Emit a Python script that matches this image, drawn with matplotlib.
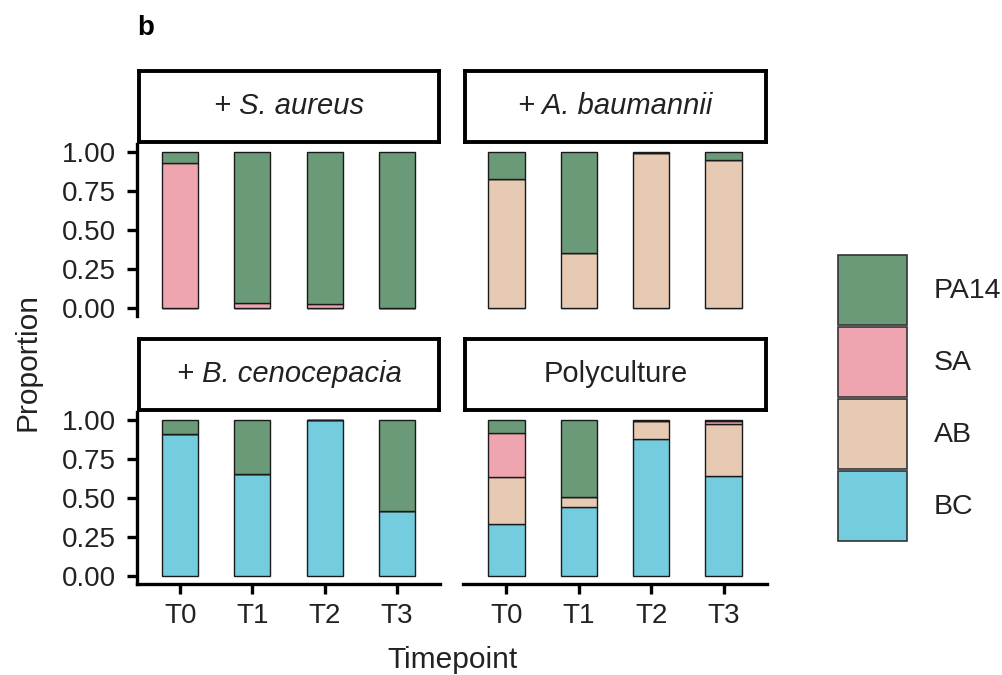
import matplotlib
matplotlib.use("Agg")
import matplotlib.pyplot as plt
from matplotlib.patches import Patch
import numpy as np

plt.rcParams['font.family'] = ['Liberation Sans', 'DejaVu Sans']

# --- data (proportions) ---
timepoints = ["T0", "T1", "T2", "T3"]
species = ["BC", "AB", "SA", "PA14"]   # stacking order, bottom -> top
colors = {"PA14": "#6b9a78", "SA": "#efa5af", "AB": "#e7cab3", "BC": "#74cddf"}

panel_titles = ["+ S. aureus", "+ A. baumannii", "+ B. cenocepacia", "Polyculture"]

# + S. aureus
sa_BC = [0.0, 0.0, 0.0, 0.0]
sa_AB = [0.0, 0.0, 0.0, 0.0]
sa_SA = [0.93, 0.032, 0.028, 0.004]
sa_PA14 = [0.07, 0.968, 0.972, 0.996]

# + A. baumannii
ab_BC = [0.0, 0.0, 0.0, 0.0]
ab_AB = [0.825, 0.35, 0.99, 0.945]
ab_SA = [0.0, 0.0, 0.0, 0.0]
ab_PA14 = [0.175, 0.65, 0.01, 0.055]

# + B. cenocepacia
bc_BC = [0.907, 0.652, 1.0, 0.415]
bc_AB = [0.0, 0.0, 0.0, 0.0]
bc_SA = [0.0, 0.0, 0.0, 0.0]
bc_PA14 = [0.093, 0.348, 0.0, 0.585]

# Polyculture
pc_BC = [0.333, 0.443, 0.877, 0.64]
pc_AB = [0.30, 0.061, 0.117, 0.332]
pc_SA = [0.281, 0.0, 0.0, 0.018]
pc_PA14 = [0.086, 0.496, 0.006, 0.01]

panel_data = [
    {"BC": sa_BC, "AB": sa_AB, "SA": sa_SA, "PA14": sa_PA14},
    {"BC": ab_BC, "AB": ab_AB, "SA": ab_SA, "PA14": ab_PA14},
    {"BC": bc_BC, "AB": bc_AB, "SA": bc_SA, "PA14": bc_PA14},
    {"BC": pc_BC, "AB": pc_AB, "SA": pc_SA, "PA14": pc_PA14},
]

W, H = 1003, 675
fig = plt.figure(figsize=(W / 100, H / 100), dpi=100)


def frac(x0, y0, x1, y1):
    # pixel box (top-left origin) -> figure fraction rect
    return [x0 / W, 1 - y1 / H, (x1 - x0) / W, (y1 - y0) / H]


panel_boxes = [
    (137, 144, 440, 316),
    (463, 144, 767, 316),
    (137, 412, 440, 584),
    (463, 412, 767, 584),
]
strip_boxes = [
    (139, 71, 439, 142),
    (465, 71, 766, 142),
    (139, 339, 439, 410),
    (465, 339, 766, 410),
]

x = np.arange(len(timepoints))
tick_fs = 20
lw_axis = 2.4
txt_col = "#222222"

for i, (pbox, sbox) in enumerate(zip(panel_boxes, strip_boxes)):
    ax = fig.add_axes(frac(*pbox))
    bottom = np.zeros(len(timepoints))
    for sp in species:
        vals = np.array(panel_data[i][sp])
        ax.bar(x, vals, width=0.5, bottom=bottom, color=colors[sp],
               edgecolor="#1a1a1a", linewidth=1.0)
        bottom += vals
    ax.set_xlim(-0.6, len(timepoints) - 0.4)
    ax.set_ylim(-0.05, 1.05)
    for s in ax.spines.values():
        s.set_visible(False)
    left_col = i % 2 == 0
    bottom_row = i >= 2
    if left_col:
        ax.spines["left"].set_visible(True)
        ax.spines["left"].set_linewidth(lw_axis)
        ax.set_yticks([0, 0.25, 0.5, 0.75, 1.0])
        ax.set_yticklabels(["0.00", "0.25", "0.50", "0.75", "1.00"])
        ax.tick_params(axis="y", length=7, width=lw_axis, labelsize=tick_fs, pad=8,
                       labelcolor=txt_col)
    else:
        ax.set_yticks([])
    if bottom_row:
        ax.spines["bottom"].set_visible(True)
        ax.spines["bottom"].set_linewidth(lw_axis)
        ax.set_xticks(x)
        ax.set_xticklabels(timepoints)
        ax.tick_params(axis="x", length=7, width=lw_axis, labelsize=tick_fs, pad=7,
                       labelcolor=txt_col)
    else:
        ax.set_xticks([])

    sax = fig.add_axes(frac(*sbox))
    sax.set_xticks([])
    sax.set_yticks([])
    for s in sax.spines.values():
        s.set_linewidth(2.8)
        s.set_color("black")
    title = panel_titles[i]
    style = "normal" if title == "Polyculture" else "italic"
    sax.text(0.5, 0.5, title, ha="center", va="center", fontsize=21,
             fontstyle=style, color=txt_col, transform=sax.transAxes)

# axis titles and panel tag
fig.text(28 / W, 1 - 362 / H, "Proportion", rotation=90, ha="center", va="center",
         fontsize=21.5, color=txt_col)
fig.text(453 / W, 1 - 660 / H, "Timepoint", ha="center", va="center",
         fontsize=21.5, color=txt_col)
fig.text(137 / W, 1 - 28 / H, "b", ha="left", va="center", fontsize=20, fontweight="bold")

# legend
handles = [Patch(facecolor=colors[sp], edgecolor="#333333", linewidth=1.2) for sp in species[::-1]]
leg = fig.legend(handles, species[::-1], loc="center left", bbox_to_anchor=(838 / W, 1 - 398 / H),
                 frameon=False, fontsize=20.5, handlelength=2.42, handleheight=3.4,
                 labelspacing=0.08, handletextpad=0.95, borderpad=0, borderaxespad=0)
for t in leg.get_texts():
    t.set_color(txt_col)

fig.savefig("out.png", dpi=100)
